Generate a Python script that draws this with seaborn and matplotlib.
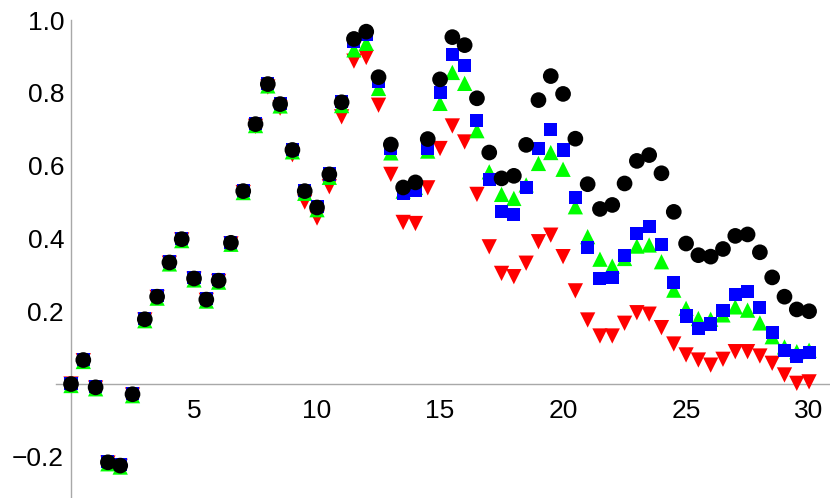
import numpy as np
import pandas as pd
import matplotlib
matplotlib.use("Agg")
import matplotlib.pyplot as plt
import seaborn as sns

sns.set_style("white")
plt.rcParams['font.family'] = ['Liberation Sans', 'DejaVu Sans']

# x positions: 0 to 30 in steps of 0.5
t = [i * 0.5 for i in range(61)]

black = [0.000, 0.066, -0.009, -0.215, -0.224, -0.028, 0.178, 0.240, 0.334, 0.398,
         0.290, 0.232, 0.284, 0.388, 0.530, 0.714, 0.824, 0.769, 0.643, 0.530,
         0.485, 0.576, 0.774, 0.948, 0.968, 0.843, 0.658, 0.540, 0.554, 0.673,
         0.837, 0.953, 0.931, 0.785, 0.636, 0.565, 0.572, 0.657, 0.780, 0.846,
         0.797, 0.674, 0.549, 0.481, 0.492, 0.551, 0.613, 0.629, 0.579, 0.473,
         0.386, 0.354, 0.350, 0.371, 0.407, 0.411, 0.362, 0.293, 0.240, 0.205,
         0.200]

blue = [0.002, 0.068, -0.007, -0.213, -0.222, -0.026, 0.180, 0.242, 0.336, 0.400,
        0.292, 0.234, 0.286, 0.390, 0.532, 0.716, 0.826, 0.770, 0.645, 0.532,
        0.487, 0.577, 0.775, 0.940, 0.960, 0.832, 0.647, 0.524, 0.533, 0.647,
        0.800, 0.904, 0.874, 0.723, 0.563, 0.473, 0.466, 0.539, 0.647, 0.700,
        0.643, 0.513, 0.376, 0.290, 0.292, 0.353, 0.414, 0.434, 0.384, 0.278,
        0.187, 0.153, 0.165, 0.201, 0.246, 0.255, 0.210, 0.142, 0.093, 0.077,
        0.087]

green = [-0.004, 0.062, -0.013, -0.219, -0.228, -0.032, 0.174, 0.236, 0.330, 0.394,
         0.286, 0.228, 0.280, 0.384, 0.526, 0.710, 0.819, 0.764, 0.638, 0.524,
         0.479, 0.568, 0.765, 0.918, 0.936, 0.812, 0.635, 0.530, 0.540, 0.640,
         0.771, 0.856, 0.826, 0.696, 0.583, 0.521, 0.510, 0.547, 0.606, 0.636,
         0.590, 0.487, 0.405, 0.343, 0.324, 0.345, 0.379, 0.382, 0.336, 0.258,
         0.208, 0.180, 0.178, 0.190, 0.212, 0.203, 0.168, 0.130, 0.102, 0.089,
         0.093]

red = [0.000, 0.064, -0.011, -0.217, -0.226, -0.030, 0.176, 0.238, 0.332, 0.396,
       0.288, 0.230, 0.282, 0.385, 0.526, 0.708, 0.816, 0.758, 0.630, 0.500,
       0.456, 0.542, 0.734, 0.887, 0.897, 0.766, 0.576, 0.444, 0.441, 0.539,
       0.647, 0.709, 0.665, 0.521, 0.377, 0.304, 0.295, 0.332, 0.391, 0.409,
       0.350, 0.256, 0.176, 0.132, 0.132, 0.167, 0.196, 0.192, 0.155, 0.110,
       0.080, 0.066, 0.052, 0.068, 0.089, 0.089, 0.077, 0.057, 0.025, 0.002,
       0.006]

x_ticks = [5, 10, 15, 20, 25, 30]
x_labels = ["5", "10", "15", "20", "25", "30"]
y_ticks = [-0.2, 0.2, 0.4, 0.6, 0.8, 1.0]
y_labels = ["\u22120.2", "0.2", "0.4", "0.6", "0.8", "1.0"]

# draw order: red at the bottom, black on top
series = [("red", red, "#ff0000", "v", 11.0),
          ("green", green, "#00ff00", "^", 11.0),
          ("blue", blue, "#0000ff", "s", 9.4),
          ("black", black, "#000000", "o", 11.3)]

fig = plt.figure(figsize=(8.3, 4.98), dpi=100)
ax = fig.add_axes([0, 0, 1, 1])

for name, vals, col, mk, ms in series:
    df = pd.DataFrame({"t": t, "v": vals})
    sns.scatterplot(data=df, x="t", y="v", ax=ax, color=col, marker=mk,
                    s=ms ** 2, linewidth=0, edgecolor="none", zorder=3)

ax.set_xlim(-2.886, 30.85)
ax.set_ylim(-0.313, 1.055)
ax.set_xlabel("")
ax.set_ylabel("")

axis_col = "#a8a8a8"
for side in ["top", "right"]:
    ax.spines[side].set_visible(False)
ax.spines["left"].set_position(("data", 0))
ax.spines["bottom"].set_position(("data", 0))
ax.spines["left"].set_bounds(-0.313, 1.0)
ax.spines["bottom"].set_bounds(-0.6, 30.85)
for side in ["left", "bottom"]:
    ax.spines[side].set_color(axis_col)
    ax.spines[side].set_linewidth(1.0)
    ax.spines[side].set_zorder(1)

ax.set_xticks(x_ticks)
ax.set_xticklabels(x_labels)
ax.set_xticks([v for v in range(1, 31) if v % 5 != 0], minor=True)
ax.set_yticks(y_ticks)
ax.set_yticklabels(y_labels)
ax.set_yticks([round(-0.3 + 0.05 * i, 2) for i in range(27) if (i % 4) != 2], minor=True)

ax.tick_params(axis="both", which="major", direction="in", length=6.5, width=0.8,
               color=axis_col, labelsize=19, labelcolor="black")
ax.tick_params(axis="both", which="minor", direction="in", length=3.8, width=0.8,
               color=axis_col)
ax.tick_params(axis="x", which="major", pad=10.5)
ax.tick_params(axis="y", which="major", pad=5)
ax.grid(False)

fig.savefig("out.png", dpi=100)
